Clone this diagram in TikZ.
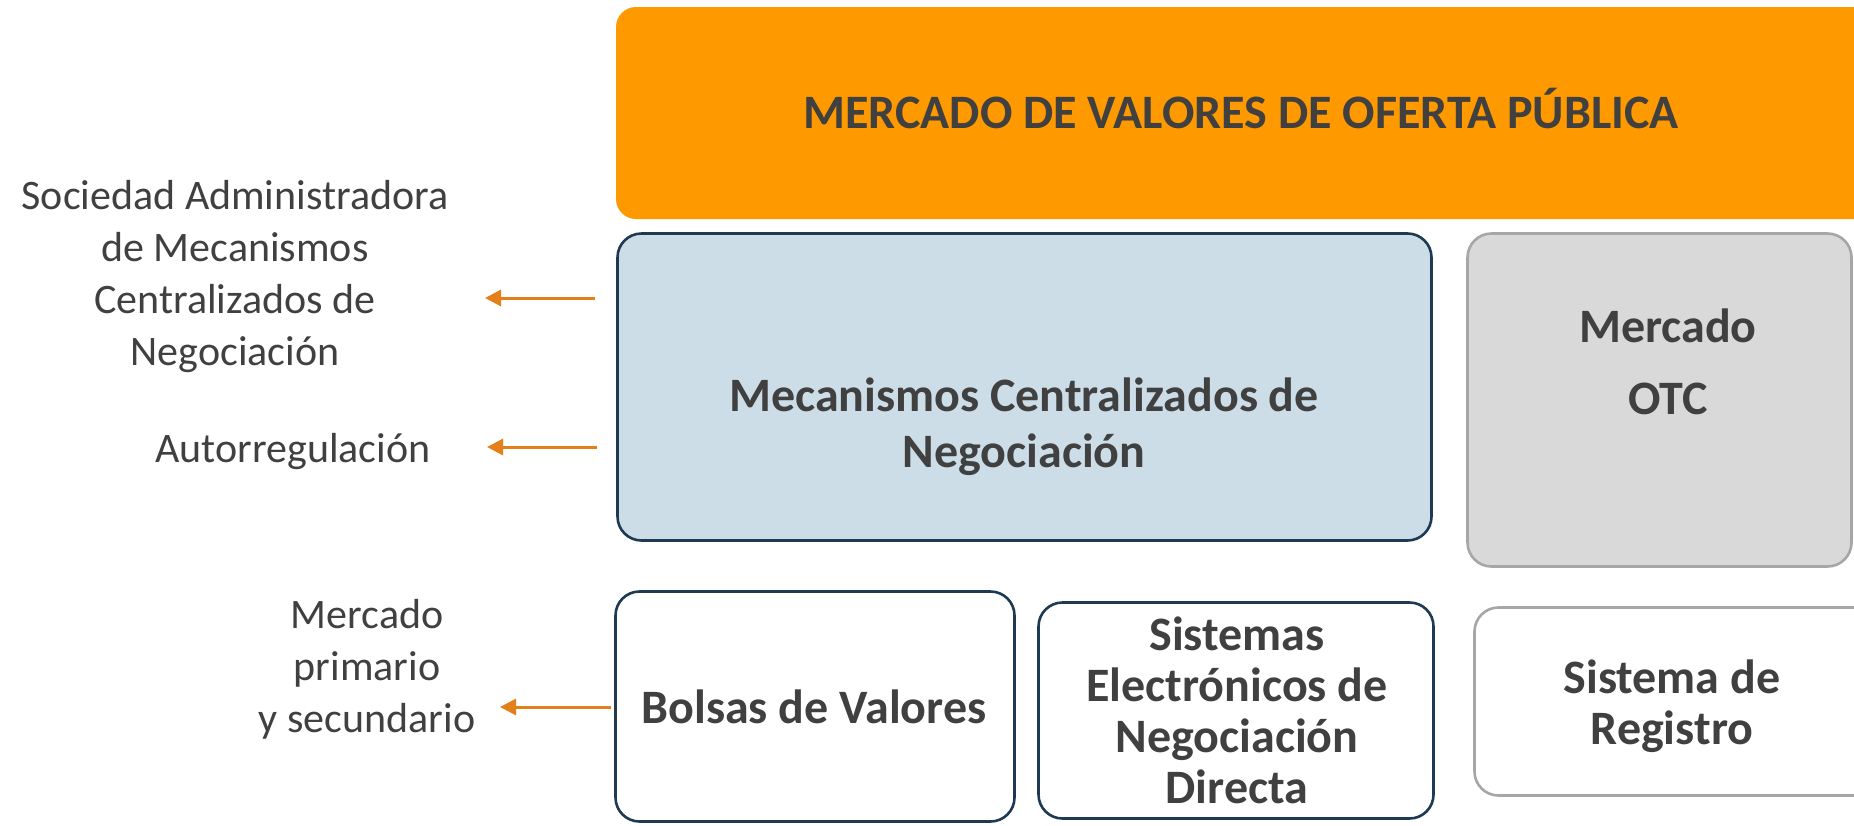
\documentclass[tikz,border=0pt]{standalone}
\usepackage{fontspec}
\setmainfont{Carlito}
\usetikzlibrary{arrows.meta}
\definecolor{txt}{HTML}{404040}
\definecolor{orangefill}{HTML}{FF9900}
\definecolor{bluefill}{HTML}{CCDDE8}
\definecolor{navy}{HTML}{1E3A52}
\definecolor{grayfill}{HTML}{D9D9D9}
\definecolor{grayline}{HTML}{A6A6A6}
\definecolor{arrowor}{HTML}{E3801C}
\begin{document}
\begin{tikzpicture}[x=1pt,y=-1pt,
  boxbase/.style={rounded corners=24pt, inner sep=0pt, line width=2.6pt},
  navybox/.style={boxbase, draw=navy},
  graybox/.style={boxbase, draw=grayline},
  boldtxt/.style={text=txt, align=center, inner sep=0pt,
    font=\fontsize{48}{56}\selectfont\bfseries},
  sidetxt/.style={text=txt, align=center, inner sep=0pt,
    font=\fontsize{42}{52}\selectfont},
  arr/.style={draw=arrowor, line width=3pt, -{Triangle[length=16pt,width=16pt]}}]
\useasboundingbox (0,0) rectangle (1854,825);
\fill[white] (0,0) rectangle (1854,825);
\begin{scope}
\clip (0,0) rectangle (1854,825);
% boxes
\node[boxbase, fill=orangefill, rounded corners=20pt, minimum width=1264pt, minimum height=212pt] (top) at (1248,113) {};
\node[navybox, fill=bluefill, minimum width=814pt, minimum height=307pt] (mcn) at (1024.5,387) {};
\node[graybox, fill=grayfill, minimum width=384pt, minimum height=333pt] (otc) at (1659.5,400) {};
\node[navybox, fill=white, minimum width=399pt, minimum height=230pt] (bolsas) at (815,706.5) {};
\node[navybox, fill=white, minimum width=395pt, minimum height=216pt] (sendbox) at (1236,710.5) {};
\node[graybox, fill=white, minimum width=404pt, minimum height=188pt] (regbox) at (1676.5,701.5) {};
\end{scope}
% box texts
\node[boldtxt] (toptxt) at (1241,109) {MERCADO DE VALORES DE OFERTA PÚBLICA};
\node[boldtxt] (mcntxt) at (1024,427) {Mecanismos Centralizados de\\Negociación};
\node[boldtxt, font=\fontsize{48}{72}\selectfont\bfseries] (otctxt) at (1668,362) {Mercado\\OTC};
\node[boldtxt] (bolsastxt) at (814,707) {Bolsas de Valores};
\node[boldtxt, font=\fontsize{48}{51}\selectfont\bfseries] (sendtxt) at (1237,710) {Sistemas\\Electrónicos de\\Negociación\\Directa};
\node[boldtxt, font=\fontsize{48}{51}\selectfont\bfseries] (regtxt) at (1672,706) {Sistema de\\Registro};
% side labels
\node[sidetxt] (sociedad) at (235,277) {Sociedad Administradora\\de Mecanismos\\Centralizados de\\Negociación};
\node[sidetxt] (autorreg) at (293,452) {Autorregulación};
\node[sidetxt] (mercprim) at (367,669) {Mercado\\primario\\y secundario};
% arrows
\coordinate (a1s) at (595,298);
\coordinate (a1e) at (485,298);
\coordinate (a2s) at (597,447);
\coordinate (a2e) at (487,447);
\coordinate (a3s) at (611,707);
\coordinate (a3e) at (500,707);
\draw[arr] (a1s) -- (a1e);
\draw[arr] (a2s) -- (a2e);
\draw[arr] (a3s) -- (a3e);
\end{tikzpicture}
\end{document}
